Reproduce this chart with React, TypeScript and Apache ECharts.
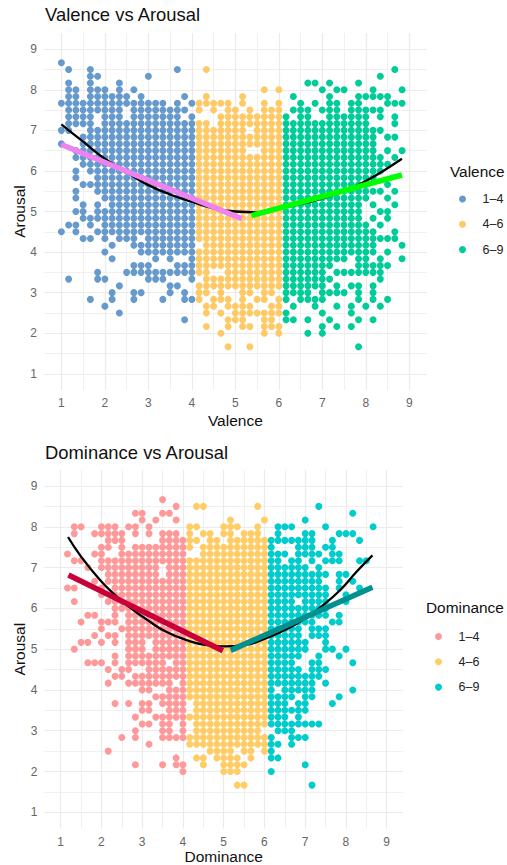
import React, { useEffect, useRef } from "react";
import * as echarts from "echarts";

// Ratings sit on a grid of sixths. Each row: [arousal in sixths, occupied columns],
// where column c stands for x = 1 + c / 6.
const valenceRows: [number, string][] = [
  [52, "0"],
  [51, "1 4 16 20 46"],
  [50, "4 5 12 44"],
  [49, "1 4 8 34 35 37 41"],
  [48, "1 2 4 5 6 8 10 28 30 36 38 39 43 47"],
  [47, "1 2 4-9 11 17 20 25 32 37 41-45"],
  [46, "0-14 16 18-23 25 28 30 33 35 37 38 40 41 45-47"],
  [45, "1-8 10-17 19 21 23 24 26 28-30 32-34 36-38 40-44"],
  [44, "1-4 6-8 10-16 18 22-31 33 34 37-42 44 46"],
  [43, "1-4 6-20 22-42 46"],
  [42, "0 1 4-25 27-44"],
  [41, "3-43 45 46"],
  [40, "0 3-43"],
  [39, "2-25 28-43 45 47"],
  [38, "2-44 46"],
  [37, "3-45"],
  [36, "2 4-44"],
  [35, "2 5-43"],
  [34, "3-42 45"],
  [33, "2 5-44 46"],
  [32, "2 6-42 45"],
  [31, "3 5 7-41 43 46"],
  [30, "2 3 5-41 44 45"],
  [29, "3-41 43 45"],
  [28, "1 2 4 6-42 44"],
  [27, "0 2 5-43 46"],
  [26, "3 4 6 8-10 12-46"],
  [25, "7 10-18 20-43 47"],
  [24, "6 11-43 45"],
  [23, "7 13 15 18-39 41 42 44 47"],
  [22, "10-12 16-37 41-45"],
  [21, "5 9-20 23-36 38-44"],
  [20, "1 5 6 12-14 18 20-37 44"],
  [19, "8 15 16 19-36 38 40 41 43"],
  [18, "7 10 11 15 17 19 20 22 25 26 28 29 31-34 36-39 41 43"],
  [17, "4 7 10 14 17-19 21-23 25 27 28 30 31 33-36 41 43 45"],
  [16, "6 20 21 23-26 29 30 32 35 38 40 42 44"],
  [15, "8 20 22 24-31 36 40"],
  [14, "17 23-25 28 29 31 32 34 37 41 43"],
  [13, "20 23 25 26 28-30 36 38 40"],
  [12, "22 28 30 34 36"],
  [10, "23 26 41"],
];

const dominanceRows: [number, string][] = [
  [52, "15"],
  [51, "17 20 21 29 38"],
  [50, "11 12 15 16 43"],
  [49, "12 14 17 25 30 36"],
  [48, "2 3 6 7 8 10 11 13 19 20 24-26 29 32-34 39 46"],
  [47, "2 5-9 11 13 15-17 19 21 22 24 25 27-29 32 36 37 41-43"],
  [46, "7-9 15-20 22 23 25-37 40 44"],
  [45, "6 7 9 11-19 21-31 35-37 39 40"],
  [44, "1 5 6 9-18 21-33 35-38 40 41"],
  [43, "2 3 6-32 34 35 37 39-41 44 45"],
  [42, "4 6-14 16-36 38"],
  [41, "7-14 16-39 41 42"],
  [40, "5 7-38 41 43"],
  [39, "1 2 6 8-39 41 44"],
  [38, "6 8-39 42"],
  [37, "2 7-34 36-39 42"],
  [36, "8-39"],
  [35, "4 5 8 10-39 41"],
  [34, "3 6-8 10-37 40 41"],
  [33, "6 9-35 37-39"],
  [32, "5 7 8 10-35 37-39"],
  [31, "3 4 6 8 10-12 14-36 39"],
  [30, "2 10-12 14-36 39 40 42"],
  [29, "8 10-35 38 41"],
  [28, "4-6 8 10-15 17-34 37 38 43"],
  [27, "7 9 10 13-35 37-39"],
  [26, "8 9 11-38"],
  [25, "7 10-16 18-37 39"],
  [24, "12 13 16-31 33-37 43"],
  [23, "14-34 36 37 41"],
  [22, "8 10 12 13 15-18 20-33 35 36 40"],
  [21, "12 13 16-18 20-36"],
  [20, "11 14-33 35"],
  [19, "12 13 15 16 18 20-38"],
  [18, "11 15 16 18 20-29 32-34"],
  [17, "9 11 15-31 34-36"],
  [16, "13 19-32 34"],
  [15, "7 22-25 27 28 30 31"],
  [14, "17 20 21 23-26 28 31 32"],
  [13, "11 15 17 18 21 24-27 36"],
  [12, "18 24-26 31"],
  [10, "26 27 37"],
];

const valenceCurve: [number, number][] = [
  [1, 7.15], [1.5, 6.72], [2, 6.3], [2.5, 5.97], [3, 5.65], [3.5, 5.42], [4, 5.24], [4.5, 5.08],
  [5, 5.0], [5.5, 4.98], [6, 5.08], [6.5, 5.18], [7, 5.32], [7.5, 5.5], [8, 5.75], [8.4, 6.0], [8.83, 6.3],
];
const valenceLowFit: [number, number][] = [[1, 6.65], [5.15, 4.82]];
const valenceHighFit: [number, number][] = [[5.37, 4.9], [8.83, 5.9]];

const dominanceCurve: [number, number][] = [
  [1.18, 7.75], [1.5, 7.27], [1.96, 6.7], [2.33, 6.33], [2.62, 6.08], [3.19, 5.67], [3.6, 5.42], [4.09, 5.22], [4.58, 5.1],
  [5, 5.07], [5.5, 5.1], [6, 5.25], [6.4, 5.42], [6.87, 5.67], [7.43, 6.07], [7.86, 6.45], [8.26, 6.9], [8.65, 7.3],
];
const dominanceLowFit: [number, number][] = [[1.19, 6.82], [4.98, 4.96]];
const dominanceHighFit: [number, number][] = [[5.17, 4.97], [8.65, 6.52]];

const groupNames = ["1–4", "4–6", "6–9"];
const majorTicks = [1, 2, 3, 4, 5, 6, 7, 8, 9];
const minorTicks = [1.5, 2.5, 3.5, 4.5, 5.5, 6.5, 7.5, 8.5];

const FONT = "Liberation Sans";

function expand(rows: [number, string][]) {
  const groups: [number, number][][] = [[], [], []];
  rows.forEach(([k, spec]) => {
    spec.split(" ").forEach((part) => {
      const [a, b] = part.split("-").map(Number);
      for (let c = a; c <= (b === undefined ? a : b); c++) {
        const g = c <= 18 ? 0 : c <= 30 ? 1 : 2;
        groups[g].push([1 + c / 6, k / 6]);
      }
    });
  });
  return groups;
}

type Cfg = {
  rows: [number, string][];
  curve: [number, number][];
  lowFit: [number, number][];
  highFit: [number, number][];
  colors: string[];
  lowColor: string;
  highColor: string;
  title: string;
  xName: string;
  grid: { left: number; top: number; width: number; height: number };
  titleTop: number;
  legendTitleLeft: number;
  legendTitleTop: number;
  legendLeft: number;
  legendTop: number;
  xNameGap: number;
};

function buildOption(c: Cfg) {
  const groups = expand(c.rows);
  const baseAxis = { type: "value", min: 0.6, max: 9.4 };
  const axisPair = (name: string, isX: boolean) => [
    {
      ...baseAxis,
      name,
      nameLocation: "middle",
      nameMoveOverlap: false,
      nameGap: isX ? c.xNameGap : 17,
      nameTextStyle: { fontFamily: FONT, fontSize: 15.5, color: "#111" },
      axisLine: { show: false },
      axisTick: { show: false, customValues: majorTicks },
      axisLabel: { customValues: majorTicks, fontFamily: FONT, fontSize: 12, color: "#666", margin: 7 },
      splitLine: { show: true, lineStyle: { color: "#EBEBEB", width: 1.2 } },
    },
    {
      ...baseAxis,
      axisLine: { show: false },
      axisTick: { show: false, customValues: minorTicks },
      axisLabel: { show: false },
      splitLine: { show: true, lineStyle: { color: "#F0F0F0", width: 1 } },
    },
  ];
  const fit = (data: [number, number][], color: string, width: number, z: number, smooth = false) => ({
    type: "line",
    data,
    smooth,
    showSymbol: false,
    silent: true,
    z,
    lineStyle: { color, width, cap: "butt" },
    itemStyle: { color },
  });
  return {
    animation: false,
    backgroundColor: "#fff",
    title: [
      { text: c.title, left: 45, top: c.titleTop, padding: 0, textStyle: { fontFamily: FONT, fontSize: 18.4, fontWeight: "normal", color: "#111" } },
      { text: c.xName, left: c.legendTitleLeft, top: c.legendTitleTop, padding: 0, textStyle: { fontFamily: FONT, fontSize: 15.4, fontWeight: "normal", color: "#111" } },
    ],
    legend: {
      data: groupNames,
      orient: "vertical",
      left: c.legendLeft,
      top: c.legendTop,
      padding: 0,
      icon: "circle",
      itemWidth: 30,
      itemHeight: 7,
      itemGap: 12.3,
      selectedMode: false,
      textStyle: { fontFamily: FONT, fontSize: 12.5, color: "#222", padding: [0, 0, 0, 0] },
    },
    grid: { ...c.grid, outerBoundsMode: "none" },
    xAxis: axisPair(c.xName, true),
    yAxis: axisPair("Arousal", false),
    series: [
      ...groups.map((data, i) => ({
        name: groupNames[i],
        type: "scatter",
        data,
        symbolSize: 7,
        silent: true,
        z: 2,
        itemStyle: { color: c.colors[i], opacity: 1 },
      })),
      fit(c.curve, "#000", 2.3, 3, true),
      fit(c.lowFit, c.lowColor, 5.5, 4),
      fit(c.highFit, c.highColor, 5.5, 4),
    ],
  };
}

const topCfg: Cfg = {
  rows: valenceRows,
  curve: valenceCurve,
  lowFit: valenceLowFit,
  highFit: valenceHighFit,
  colors: ["#6699CC", "#FFC966", "#00CC99"],
  lowColor: "#EE82EE",
  highColor: "#00FF00",
  title: "Valence vs Arousal",
  xName: "Valence",
  grid: { left: 44, top: 33, width: 382.7, height: 357 },
  titleTop: 5,
  legendTitleLeft: 450,
  legendTitleTop: 164,
  legendLeft: 459,
  legendTop: 192.5,
  xNameGap: 22,
};

const bottomCfg: Cfg = {
  rows: dominanceRows,
  curve: dominanceCurve,
  lowFit: dominanceLowFit,
  highFit: dominanceHighFit,
  colors: ["#FF9999", "#FFCC66", "#00CCCC"],
  lowColor: "#C70039",
  highColor: "#009090",
  title: "Dominance vs Arousal",
  xName: "Dominance",
  grid: { left: 44.4, top: 37.7, width: 358.6, height: 358.9 },
  titleTop: 11,
  legendTitleLeft: 426,
  legendTitleTop: 168,
  legendLeft: 435,
  legendTop: 198,
  xNameGap: 20,
};

function Panel({ cfg, top, height }: { cfg: Cfg; top: number; height: number }) {
  const ref = useRef<HTMLDivElement>(null);
  useEffect(() => {
    const chart = echarts.init(ref.current!, undefined, { renderer: "svg" });
    chart.setOption(buildOption(cfg) as any);
    return () => chart.dispose();
  }, []);
  return <div ref={ref} style={{ position: "absolute", left: 0, top, width: 507, height }} />;
}

export default function App() {
  return (
    <div style={{ position: "absolute", left: 0, top: 0, width: 507, height: 865, background: "#fff" }}>
      <Panel cfg={topCfg} top={0} height={432} />
      <Panel cfg={bottomCfg} top={432} height={433} />
    </div>
  );
}
